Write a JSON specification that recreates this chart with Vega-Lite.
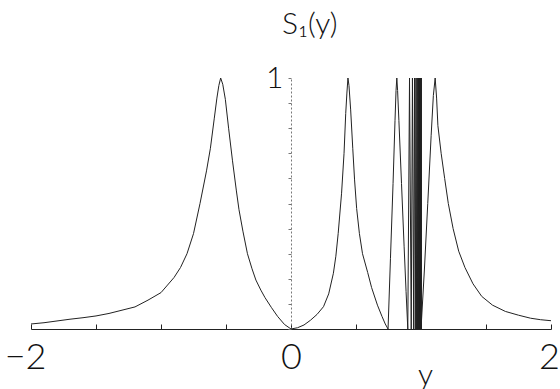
{
  "$schema": "https://vega.github.io/schema/vega-lite/v6.json",
  "width": 520,
  "height": 251,
  "autosize": {"type": "none"},
  "padding": {"left": 31, "top": 78, "right": 9, "bottom": 60},
  "background": "white",
  "config": {"view": {"stroke": null}},
  "title": {
    "text": "S₁(y)",
    "anchor": "start",
    "frame": "group",
    "dx": 251,
    "baseline": "alphabetic",
    "offset": -1,
    "font": "Lato",
    "fontSize": 30,
    "fontWeight": 300,
    "color": "#111"
  },
  "data": {
    "values": [
      {"y": -2.0, "S1": 0.02}, {"y": -1.9, "S1": 0.025}, {"y": -1.8, "S1": 0.032}, {"y": -1.7, "S1": 0.039},
      {"y": -1.6, "S1": 0.045}, {"y": -1.5, "S1": 0.052}, {"y": -1.4, "S1": 0.062}, {"y": -1.3, "S1": 0.075},
      {"y": -1.2, "S1": 0.088}, {"y": -1.1, "S1": 0.115}, {"y": -1.0, "S1": 0.145}, {"y": -0.95, "S1": 0.175},
      {"y": -0.9, "S1": 0.205}, {"y": -0.85, "S1": 0.245}, {"y": -0.8, "S1": 0.3}, {"y": -0.75, "S1": 0.38},
      {"y": -0.7, "S1": 0.5}, {"y": -0.65, "S1": 0.63}, {"y": -0.62, "S1": 0.72}, {"y": -0.59, "S1": 0.84},
      {"y": -0.57, "S1": 0.92}, {"y": -0.555, "S1": 0.97}, {"y": -0.541, "S1": 1.0}, {"y": -0.525, "S1": 0.975},
      {"y": -0.505, "S1": 0.915}, {"y": -0.48, "S1": 0.8}, {"y": -0.45, "S1": 0.67}, {"y": -0.42, "S1": 0.55},
      {"y": -0.4, "S1": 0.475}, {"y": -0.37, "S1": 0.39}, {"y": -0.335, "S1": 0.3}, {"y": -0.3, "S1": 0.24},
      {"y": -0.27, "S1": 0.195}, {"y": -0.232, "S1": 0.155}, {"y": -0.2, "S1": 0.125}, {"y": -0.15, "S1": 0.085},
      {"y": -0.103, "S1": 0.05}, {"y": -0.05, "S1": 0.018}, {"y": 0.0, "S1": 0.0},
      {"y": 0.05, "S1": 0.005}, {"y": 0.1, "S1": 0.016}, {"y": 0.15, "S1": 0.035}, {"y": 0.2, "S1": 0.058},
      {"y": 0.25, "S1": 0.089}, {"y": 0.29, "S1": 0.14}, {"y": 0.326, "S1": 0.222}, {"y": 0.345, "S1": 0.29},
      {"y": 0.363, "S1": 0.381}, {"y": 0.389, "S1": 0.541}, {"y": 0.408, "S1": 0.7}, {"y": 0.421, "S1": 0.859},
      {"y": 0.43, "S1": 0.94}, {"y": 0.438, "S1": 1.0}, {"y": 0.446, "S1": 0.97}, {"y": 0.459, "S1": 0.873},
      {"y": 0.475, "S1": 0.72}, {"y": 0.489, "S1": 0.594}, {"y": 0.505, "S1": 0.48}, {"y": 0.526, "S1": 0.381},
      {"y": 0.55, "S1": 0.3}, {"y": 0.59, "S1": 0.225}, {"y": 0.62, "S1": 0.165}, {"y": 0.665, "S1": 0.095},
      {"y": 0.7, "S1": 0.05}, {"y": 0.725, "S1": 0.02}, {"y": 0.7466, "S1": 0.0},
      {"y": 0.765, "S1": 0.28}, {"y": 0.785, "S1": 0.58}, {"y": 0.8, "S1": 0.83}, {"y": 0.808, "S1": 0.95},
      {"y": 0.814, "S1": 1.0}, {"y": 0.82, "S1": 0.95}, {"y": 0.83, "S1": 0.83}, {"y": 0.85, "S1": 0.58},
      {"y": 0.87, "S1": 0.33}, {"y": 0.885, "S1": 0.15}, {"y": 0.8985, "S1": 0.0},
      {"y": 0.9117, "S1": 1.0}, {"y": 0.9248, "S1": 0.0}, {"y": 0.9342, "S1": 1.0}, {"y": 0.9436, "S1": 0.0},
      {"y": 0.95, "S1": 1.0}, {"y": 0.9564, "S1": 0.0}, {"y": 0.9613, "S1": 1.0}, {"y": 0.9662, "S1": 0.0},
      {"y": 0.97, "S1": 1.0}, {"y": 0.9737, "S1": 0.0}, {"y": 0.9767, "S1": 1.0}, {"y": 0.9797, "S1": 0.0},
      {"y": 0.982, "S1": 1.0}, {"y": 0.9842, "S1": 0.0}, {"y": 0.9861, "S1": 1.0}, {"y": 0.988, "S1": 0.0},
      {"y": 0.9895, "S1": 1.0}, {"y": 0.991, "S1": 0.0}, {"y": 0.9922, "S1": 1.0}, {"y": 0.9934, "S1": 0.0},
      {"y": 0.9944, "S1": 1.0}, {"y": 0.9953, "S1": 0.0}, {"y": 0.996, "S1": 1.0}, {"y": 0.9967, "S1": 0.0},
      {"y": 0.9973, "S1": 1.0}, {"y": 0.9978, "S1": 0.0}, {"y": 0.9982, "S1": 1.0}, {"y": 0.9986, "S1": 0.0},
      {"y": 0.9989, "S1": 1.0}, {"y": 0.9992, "S1": 0.0}, {"y": 0.9994, "S1": 1.0}, {"y": 0.9996, "S1": 0.0},
      {"y": 0.9998, "S1": 1.0}, {"y": 1.0, "S1": 0.0},
      {"y": 1.026, "S1": 0.235}, {"y": 1.052, "S1": 0.5}, {"y": 1.078, "S1": 0.77}, {"y": 1.095, "S1": 0.93},
      {"y": 1.109, "S1": 1.0}, {"y": 1.12, "S1": 0.92}, {"y": 1.13, "S1": 0.81}, {"y": 1.155, "S1": 0.7},
      {"y": 1.182, "S1": 0.6}, {"y": 1.21, "S1": 0.5}, {"y": 1.247, "S1": 0.4}, {"y": 1.29, "S1": 0.31},
      {"y": 1.338, "S1": 0.245}, {"y": 1.4, "S1": 0.18}, {"y": 1.467, "S1": 0.13}, {"y": 1.55, "S1": 0.095},
      {"y": 1.649, "S1": 0.07}, {"y": 1.75, "S1": 0.055}, {"y": 1.843, "S1": 0.043}, {"y": 1.92, "S1": 0.037},
      {"y": 2.0, "S1": 0.033}
    ]
  },
  "mark": {"type": "line", "stroke": "#222", "strokeWidth": 1, "clip": false},
  "encoding": {
    "x": {
      "field": "y",
      "type": "quantitative",
      "sort": null,
      "scale": {"domain": [-2, 2], "nice": false, "zero": false},
      "axis": {
        "values": [-2, -1.5, -1, -0.5, 0, 0.5, 1, 1.5, 2],
        "labelExpr": "datum.value == -2 ? '−2' : datum.value == 0 ? '0' : datum.value == 2 ? '2' : ''",
        "labelFlush": false,
        "labelOverlap": false,
        "labelFont": "Lato",
        "labelFontWeight": 300,
        "labelFontSize": 36,
        "labelColor": "#111",
        "labelPadding": 16,
        "labelOffset": {"condition": [{"test": "datum.value == -2", "value": -6}, {"test": "datum.value == 2", "value": -2}], "value": 0},
        "tickSize": -5,
        "tickColor": "#222",
        "tickWidth": 1,
        "domainColor": "#222",
        "domainWidth": 1.2,
        "grid": false,
        "title": "y",
        "titleFont": "Lato",
        "titleFontSize": 30,
        "titleFontWeight": 300,
        "titleColor": "#111",
        "titleX": 394,
        "titleY": 55,
        "titleAlign": "center",
        "titleBaseline": "alphabetic"
      }
    },
    "y": {
      "field": "S1",
      "type": "quantitative",
      "scale": {"domain": [0, 1], "nice": false},
      "axis": {
        "orient": "left",
        "offset": -260,
        "values": [0, 0.1, 0.2, 0.3, 0.4, 0.5, 0.6, 0.7, 0.8, 0.9, 1],
        "labelExpr": "datum.value == 1 ? '1' : ''",
        "labelFont": "Lato",
        "labelFontWeight": 300,
        "labelFontSize": 30,
        "labelColor": "#111",
        "labelPadding": 5,
        "labelOverlap": false,
        "labelFlush": false,
        "tickSize": 3,
        "tickColor": "#777",
        "domainColor": "#777",
        "domainDash": [2, 2],
        "domainWidth": 1,
        "grid": false,
        "title": null
      }
    }
  }
}
